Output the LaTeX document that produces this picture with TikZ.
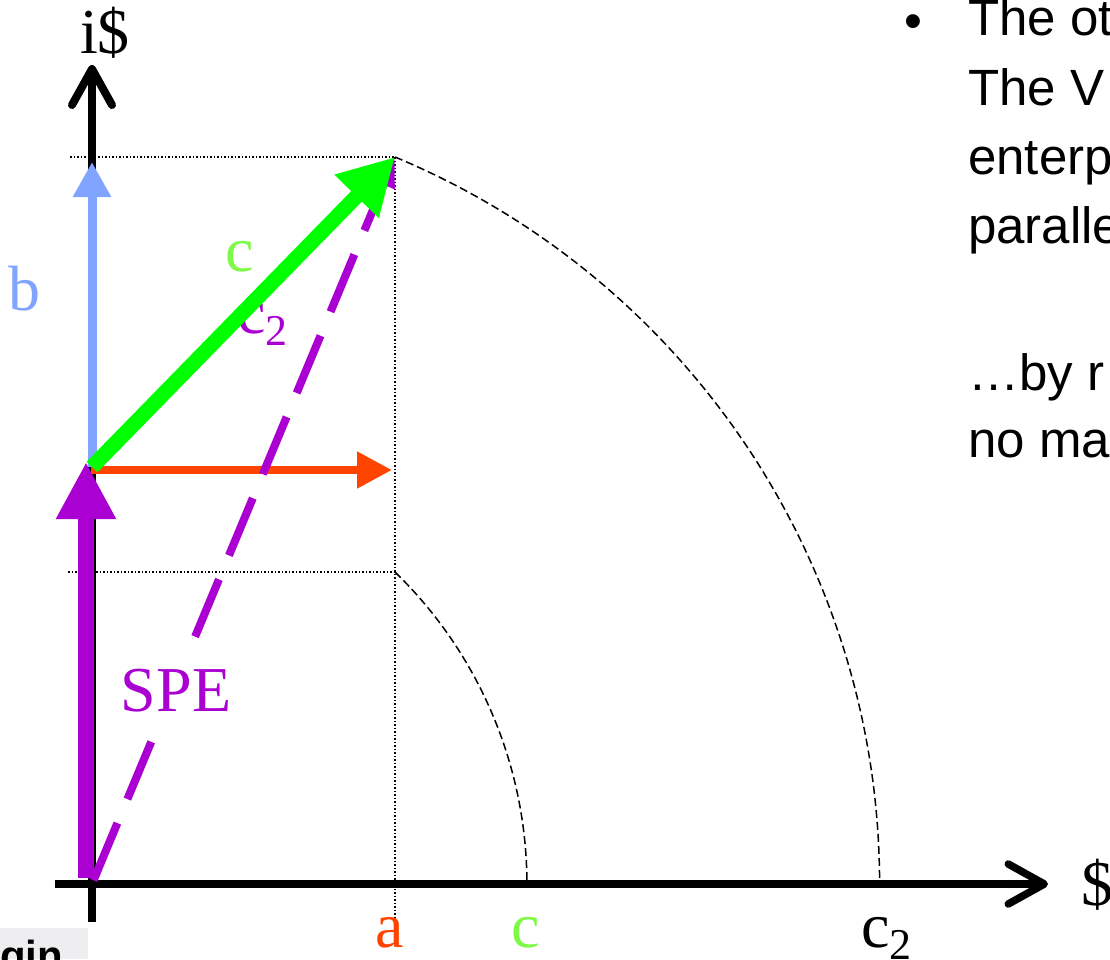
\documentclass[tikz,border=0pt]{standalone}
\usepackage{fontspec}
\setmainfont{Liberation Serif}
\newfontfamily\arialfont{Liberation Sans}
\usetikzlibrary{arrows.meta}
\definecolor{spe}{RGB}{170,0,210}
\definecolor{bcol}{RGB}{128,164,255}
\definecolor{gcol}{RGB}{0,255,0}
\definecolor{glab}{RGB}{125,250,70}
\definecolor{rcol}{RGB}{255,68,0}
\definecolor{boxgray}{RGB}{238,237,240}
\newcommand{\lowtwo}{\raisebox{-12pt}{\fontsize{44}{44}\selectfont 2}}
\begin{document}
\begin{tikzpicture}[x=1pt,y=-1pt,
  lbl/.style={inner sep=0pt, anchor=base, font=\fontsize{64}{70}\selectfont},
  lblw/.style={inner sep=0pt, anchor=base west, font=\fontsize{64}{70}\selectfont},
  txt/.style={inner sep=0pt, anchor=base west, font=\arialfont\fontsize{51}{60}\selectfont},
  axisline/.style={line width=7.5pt, line cap=butt, -{Straight Barb[length=36pt,width=40pt,round]}},
  guide/.style={line width=1.5pt, dash pattern=on 1.5pt off 2pt},
  arcline/.style={line width=1.5pt, dash pattern=on 8pt off 4pt},
  vec/.style={line cap=butt}
]
\useasboundingbox (0,0) rectangle (1110,959);
% key points
\coordinate (O) at (92,884);
\coordinate (P) at (395,157);
\coordinate (Q) at (92,467);
\coordinate (xs) at (55,884);
\coordinate (xe) at (1048,884);
\coordinate (ys) at (92,922);
\coordinate (ye) at (92,65);
\coordinate (g1) at (70,157);
\coordinate (g2) at (68,572);
\coordinate (g3) at (395,572);
\coordinate (g4) at (395,918);
% box bottom-left
\fill[boxgray] (0,928) rectangle (88,959);
\node[inner sep=0pt, anchor=base west, font=\arialfont\bfseries\fontsize{42}{42}\selectfont] (gin) at (0,970) {gin};
% guides
\draw[guide] (g1) -- (P);
\draw[guide] (g2) -- (g3);
\draw[guide] (P) -- (g4);
\draw[arcline] (g3) arc[start angle=45.83, end angle=0, radius=435pt];
\draw[arcline] (P) arc[start angle=67.37, end angle=0, radius=787.6pt];
% axes
\draw[axisline] (xs) -- (xe);
\draw[axisline, line width=8pt] (ys) -- (ye);
% vectors
\draw[vec, bcol, line width=9pt, -{Triangle[length=35pt,width=36pt]}] (Q) -- (92,162);
\draw[vec, spe, line width=16pt, -{Triangle[length=57pt,width=56pt]}] (86,878) -- (86,462);
\draw[vec, rcol, line width=8pt, -{Triangle[length=35pt,width=35pt]}] (91,470) -- (392,470);
\draw[vec, spe, line width=8pt, dash pattern=on 62pt off 26pt, dash phase=84pt, -{Triangle[length=30pt,width=22pt]}] (O) -- (P);
\node[lbl, text=spe, fill=white, inner xsep=3pt, inner ysep=12pt] (lspe) at (176,711) {SPE};
\node[lblw, text=spe] (c2a) at (237,333) {c\lowtwo};
\draw[vec, gcol, line width=15pt, -{Triangle[length=55pt,width=58pt]}] (Q) -- (P);
% labels
\node[lbl] (iy) at (105,53) {i\$};
\node[lbl] (dx) at (1097,905) {\$};
\node[lbl, text=bcol] (lb) at (25,310) {b};
\node[lbl, text=glab] (lc) at (240,271) {c};
\node[lbl, text=rcol] (la) at (390,947) {a};
\node[lbl, text=glab] (lcx) at (526,947) {c};
\node[lblw] (lc2x) at (861,947) {c\lowtwo};
% right text
\node[inner sep=0pt, anchor=base west, font=\arialfont\fontsize{51}{51}\selectfont] (bul) at (904,38) {•};
\node[txt] (t1) at (968,35) {The ot};
\node[txt] (t2) at (968,105) {The V};
\node[txt] (t3) at (968,174) {enterp};
\node[txt] (t4) at (968,243) {paralle};
\node[txt] (t5) at (968,390) {…by r};
\node[txt] (t6) at (968,457) {no ma};
\end{tikzpicture}
\end{document}
